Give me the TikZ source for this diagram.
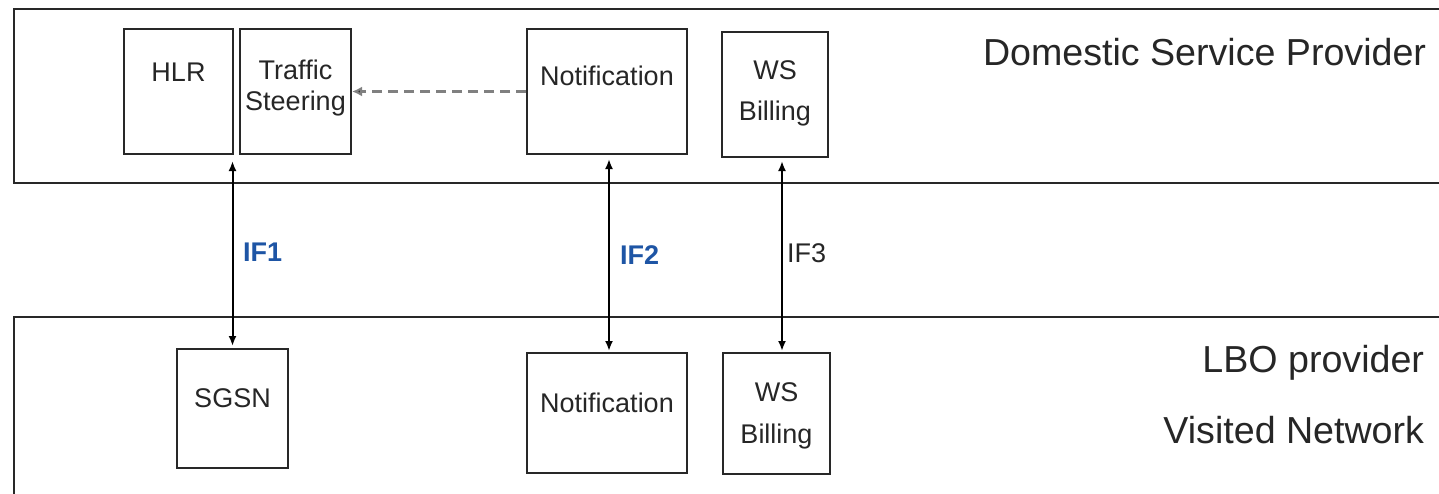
\documentclass[tikz,border=0pt]{standalone}
\usepackage{fontspec}
\setmainfont{Liberation Sans}
\usetikzlibrary{arrows.meta}
\definecolor{ifblue}{RGB}{30,85,165}
\definecolor{linegray}{RGB}{40,40,40}

\begin{document}
\begin{tikzpicture}[x=0.5pt, y=-0.5pt, >={Latex[length=5pt,width=4pt]}, line width=1pt]
\tikzstyle{band}=[draw=linegray, line width=1pt]
\tikzstyle{box}=[draw=linegray, line width=1pt, inner sep=0pt, minimum height=62.5pt]
\tikzstyle{txt}=[inner sep=0pt, align=center, font=\fontsize{13.5}{15.5}\selectfont, text=black!85]
\tikzstyle{area}=[inner sep=0pt, anchor=east, font=\fontsize{18.8}{22}\selectfont, text=black!85]
\tikzstyle{iflabel}=[inner sep=0pt, anchor=west, font=\fontsize{13.5}{15.5}\selectfont\bfseries, text=ifblue]
\useasboundingbox (0,0) rectangle (1439,493);
\clip (0,0) rectangle (1439,493);
\fill[white] (0,0) rectangle (1439,493);
\draw[band] (14,9) rectangle (1470,183);
\draw[band] (14,317) rectangle (1470,520);
% domestic side
\node[box, minimum width=54.5pt]  (hlr)  at (178.5,91.5) {};
\node[box, minimum width=55.5pt]  (ts)   at (295.5,91.5) {};
\node[box, minimum width=80pt]    (nt)   at (607,91.5)   {};
\node[box, minimum width=53pt]    (wt)   at (775,94.5)   {};
\node[txt] (hlr-t) at (178.5,72) {HLR};
\node[txt] (ts-t)  at (295.5,88) {Traffic\\Steering};
\node[txt] (nt-t)  at (607,76)   {Notification};
\node[txt, font=\fontsize{13.5}{20.5}\selectfont] (wt-t) at (775,93) {WS\\Billing};
\node[area] (dsp) at (1427,52) {Domestic Service Provider};
% visited side
\node[box, minimum width=55.5pt, minimum height=59.5pt] (sgsn) at (232.5,408.5) {};
\node[box, minimum width=80pt, minimum height=60pt]     (nb)   at (607,413)     {};
\node[box, minimum width=53.5pt, minimum height=60.5pt] (wb)   at (776.5,413.5) {};
\node[txt] (sgsn-t) at (232.5,398) {SGSN};
\node[txt] (nb-t)   at (607,403)   {Notification};
\node[txt, font=\fontsize{13.5}{21}\selectfont] (wb-t) at (776.5,416) {WS\\Billing};
\node[area] (lbo) at (1425,363) {LBO provider};
\node[area] (vn)  at (1425,430) {Visited Network};
% interfaces
\draw[<->, shorten <=3pt, shorten >=1pt] (sgsn.north |- hlr.south) -- (sgsn.north);
\draw[<->, shorten <=2pt, shorten >=0.5pt] ([xshift=1pt]nt.south) -- ([xshift=1pt]nb.north);
\draw[<->, shorten <=1.5pt, shorten >=0.5pt] ([xshift=3.5pt]wt.south) -- ([xshift=3.5pt]wt.south |- wb.north);
\draw[->, dashed, draw=gray, line width=1.5pt, dash pattern=on 5pt off 3pt, -{Latex[length=5pt,width=5pt,fill=black!80]}] (nt.west) -- (ts.east);
\node[iflabel] (if1) at (242,252) {IF1};
\node[iflabel] (if2) at (619,255) {IF2};
\node[iflabel, font=\fontsize{13.5}{15.5}\selectfont, text=black!85] (if3) at (786,253) {IF3};
\end{tikzpicture}
\end{document}
